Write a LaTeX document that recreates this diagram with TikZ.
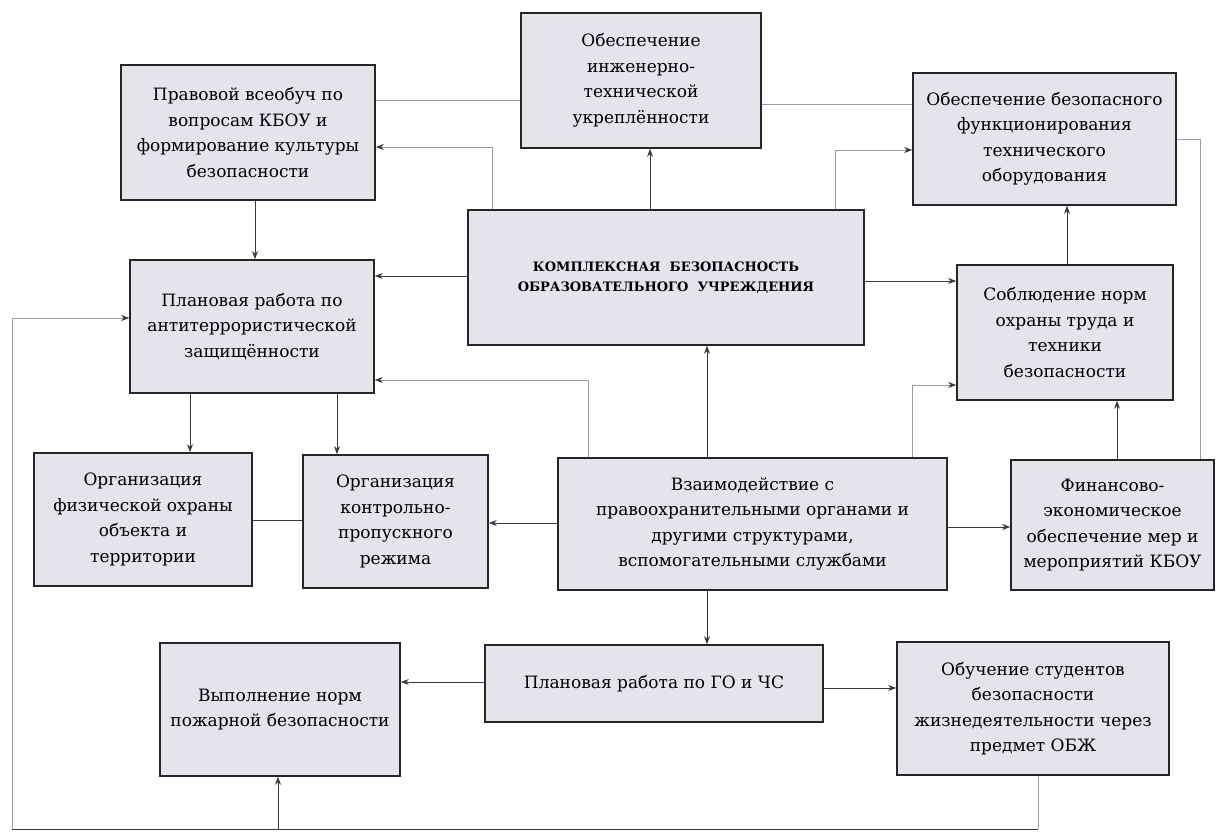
\documentclass[tikz,border=0pt]{standalone}
\usepackage{fontspec}
\setmainfont{DejaVu Serif}
\newfontfamily\boxfont{DejaVu Serif}
\usetikzlibrary{arrows.meta}
\definecolor{boxfill}{HTML}{E4E4EA}
\definecolor{lineD}{HTML}{3A3A3A}
\definecolor{lineL}{HTML}{9A9A9A}
\begin{document}
\begin{tikzpicture}[x=1pt,y=-1pt,
  box/.style={draw=black!85, line width=1.6pt, fill=boxfill, align=center,
    inner sep=0pt, font=\boxfont\fontsize{17}{25.5}\selectfont},
  conn/.style={draw=lineD, line width=0.9pt, -{Stealth[length=8pt,width=6pt]}},
  plain/.style={draw=lineD, line width=0.9pt},
  faint/.style={draw=lineL, line width=0.8pt},
  faintarr/.style={draw=lineL, line width=0.8pt, -{Stealth[length=8pt,width=6pt,color=lineD]}}]
\useasboundingbox (0,0) rectangle (1216,834);
\fill[white] (0,0) rectangle (1216,834);

% boxes
\node[box, minimum width=240pt, minimum height=135pt] (A) at (641,80.5)
  {Обеспечение\\инженерно-\\технической\\укреплённости};
\node[box, minimum width=254pt, minimum height=135pt] (B) at (248,132.5)
  {Правовой всеобуч по\\вопросам КБОУ и\\формирование культуры\\безопасности};
\node[box, minimum width=263pt, minimum height=132pt] (C) at (1044.5,139)
  {Обеспечение безопасного\\функционирования\\технического\\оборудования};
\node[box, minimum width=396pt, minimum height=135pt,
  font=\boxfont\fontsize{13}{20}\selectfont\bfseries] (D) at (666,277.5)
  {КОМПЛЕКСНАЯ\ \ БЕЗОПАСНОСТЬ\\ОБРАЗОВАТЕЛЬНОГО\ \ УЧРЕЖДЕНИЯ};
\node[box, minimum width=244pt, minimum height=133pt] (E) at (252,326.5)
  {Плановая работа по\\антитеррористической\\защищённости};
\node[box, minimum width=216pt, minimum height=135pt] (F) at (1065,332.5)
  {Соблюдение норм\\охраны труда и\\техники\\безопасности};
\node[box, minimum width=218pt, minimum height=133pt] (G) at (143,519.5)
  {Организация\\физической охраны\\объекта и\\территории};
\node[box, minimum width=185pt, minimum height=133pt] (H) at (395.5,521.5)
  {Организация\\контрольно-\\пропускного\\режима};
\node[box, minimum width=389pt, minimum height=132pt] (I) at (752.5,524)
  {Взаимодействие с\\правоохранительными органами и\\другими структурами,\\вспомогательными службами};
\node[box, minimum width=203pt, minimum height=130pt] (J) at (1112.5,525)
  {Финансово-\\экономическое\\обеспечение мер и\\мероприятий КБОУ};
\node[box, minimum width=338pt, minimum height=77pt] (K) at (654,683.5)
  {Плановая работа по ГО и ЧС};
\node[box, minimum width=240pt, minimum height=133pt] (L) at (280,709.5)
  {Выполнение норм\\пожарной безопасности};
\node[box, minimum width=272pt, minimum height=133pt] (M) at (1033,708.5)
  {Обучение студентов\\безопасности\\жизнедеятельности через\\предмет ОБЖ};

% helper coordinates
\coordinate (pDB) at (492,147);
\coordinate (pDC) at (835,150);
\coordinate (pDA) at (650,0);
\coordinate (pDE) at (0,276);
\coordinate (pDF) at (0,281);
\coordinate (pBE) at (255,0);
\coordinate (pFC) at (1067,0);
\coordinate (pID) at (707,0);
\coordinate (pIE) at (588,380);
\coordinate (pIF) at (912,385);
\coordinate (pEG) at (190,0);
\coordinate (pEH) at (337,0);
\coordinate (pGH) at (0,520);
\coordinate (pIH) at (0,523);
\coordinate (pIJ) at (0,527);
\coordinate (pJF) at (1117,0);
\coordinate (pKL) at (0,682);
\coordinate (pKM) at (0,688);
\coordinate (tBA) at (0,100);
\coordinate (tAC) at (0,104);
\coordinate (tCJ) at (1200,139);
\coordinate (qM) at (1038,829);
\coordinate (qL) at (12,829);
\coordinate (qE) at (12,318);
\coordinate (qB) at (278,829);

% connectors
\draw[faint] (B.east |- tBA) -- (A.west |- tBA);
\draw[faint] (A.east |- tAC) -- (C.west |- tAC);
\draw[faint] (C.east |- tCJ) -| (J.north -| tCJ);

\draw[conn] (D.north -| pDA) -- (A.south -| pDA);
\draw[faintarr] (D.north -| pDB) |- (B.east |- pDB);
\draw[faintarr] (D.north -| pDC) |- (C.west |- pDC);
\draw[conn] (D.west |- pDE) -- (E.east |- pDE);
\draw[conn] (D.east |- pDF) -- (F.west |- pDF);
\draw[conn] (B.south -| pBE) -- (E.north -| pBE);
\draw[conn] (F.north -| pFC) -- (C.south -| pFC);
\draw[conn] (I.north -| pID) -- (D.south -| pID);
\draw[faintarr] (I.north -| pIE) |- (E.east |- pIE);
\draw[faintarr] (I.north -| pIF) |- (F.west |- pIF);
\draw[conn] (E.south -| pEG) -- (G.north -| pEG);
\draw[conn] (E.south -| pEH) -- (H.north -| pEH);
\draw[plain] (G.east |- pGH) -- (H.west |- pGH);
\draw[conn] (I.west |- pIH) -- (H.east |- pIH);
\draw[conn] (I.east |- pIJ) -- (J.west |- pIJ);
\draw[conn] (J.north -| pJF) -- (F.south -| pJF);
\draw[conn] (I.south -| pID) -- (K.north -| pID);
\draw[conn] (K.west |- pKL) -- (L.east |- pKL);
\draw[conn] (K.east |- pKM) -- (M.west |- pKM);

% feedback loop
\draw[faint] (M.south -| qM) -- (qM);
\draw[plain] (qM) -- (qL);
\draw[faintarr] (qL) |- (E.west |- qE);
\draw[conn] (qB) -- (L.south -| qB);
\end{tikzpicture}
\end{document}
